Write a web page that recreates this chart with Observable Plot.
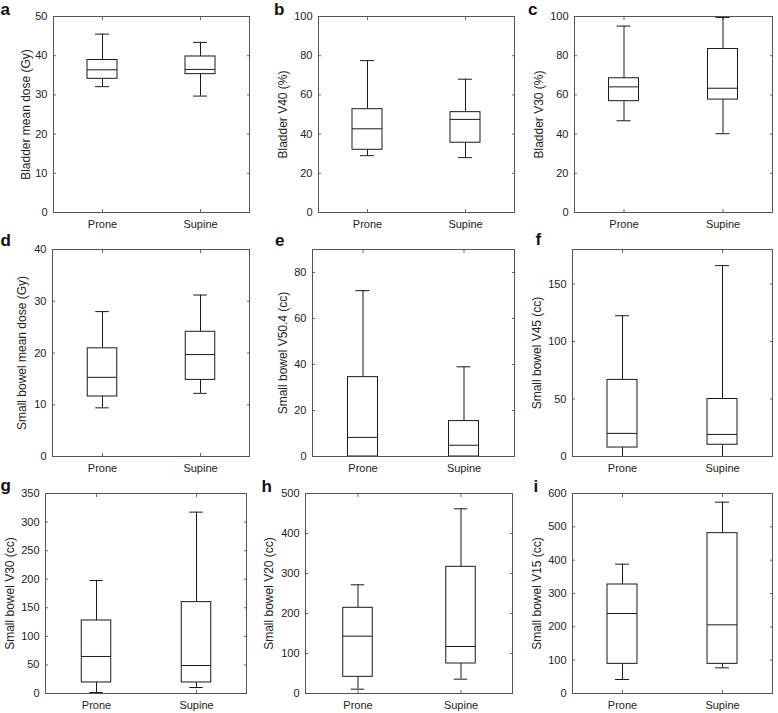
<!DOCTYPE html>
<html>
<head>
<meta charset="utf-8">
<script src="https://cdn.jsdelivr.net/npm/d3@7"></script>
<script src="https://cdn.jsdelivr.net/npm/@observablehq/plot@0.6"></script>
<style>
  html, body { margin: 0; padding: 0; background: #fff; }
  #chart { position: relative; width: 778px; height: 713px; overflow: hidden; background: #fff; }
  #chart > svg { position: absolute; }
</style>
</head>
<body>
<div id="chart"></div>
<script>
// ---- Data ----
const positions = ["Prone", "Supine"];
const panelLetters = ["a", "b", "c", "d", "e", "f", "g", "h", "i"];
const yLabels = [
  "Bladder mean dose (Gy)", "Bladder V40 (%)", "Bladder V30 (%)",
  "Small bowel mean dose (Gy)", "Small bowel V50.4 (cc)", "Small bowel V45 (cc)",
  "Small bowel V30 (cc)", "Small bowel V20 (cc)", "Small bowel V15 (cc)"
];
const yDomainMax = [50, 100, 100, 40, 90, 180, 350, 500, 600];
const yTickValues = [
  [0, 10, 20, 30, 40, 50],
  [0, 20, 40, 60, 80, 100],
  [0, 20, 40, 60, 80, 100],
  [0, 10, 20, 30, 40],
  [0, 20, 40, 60, 80],
  [0, 50, 100, 150],
  [0, 50, 100, 150, 200, 250, 300, 350],
  [0, 100, 200, 300, 400, 500],
  [0, 100, 200, 300, 400, 500, 600]
];
// [Prone, Supine] per panel
const lowerWhisker = [[32.1, 29.7], [29.0, 28.0], [46.8, 40.2], [9.4, 12.2], [0, 0], [0, 0], [1.7, 10.5], [10.8, 35.8], [42, 77]];
const lowerQuartile = [[34.1, 35.3], [32.0, 35.6], [56.8, 57.6], [11.6, 14.8], [0, 0], [7.8, 10.2], [19.3, 19.3], [41.7, 75.0], [89, 89]];
const medianValue = [[36.4, 36.5], [42.7, 47.5], [64.1, 63.4], [15.3, 19.7], [8.3, 4.9], [20.1, 19.2], [64.8, 49.0], [143.3, 117.5], [240, 206]];
const upperQuartile = [[38.9, 39.8], [52.7, 51.2], [68.5, 83.4], [20.9, 24.1], [34.5, 15.4], [66.6, 50.0], [127.8, 159.9], [214.2, 316.7], [327, 481]];
const upperWhisker = [[45.5, 43.4], [77.5, 68.0], [95.1, 99.5], [28.0, 31.2], [72.1, 39.0], [122.4, 166.0], [197.8, 317.4], [271.7, 461.7], [388, 574]];

// ---- Layout (pixels) ----
// frame edges [left, right, top, bottom]
const frames = [
  [53, 249, 16, 212], [318, 514, 16, 212], [574, 772, 16, 212],
  [52, 249, 249, 456], [312, 514, 249, 456], [572, 772, 249, 456],
  [45, 246, 493, 693], [305, 512, 493, 693], [572, 772, 493, 693]
];
const cols = [[0, 255], [255, 515], [515, 778]];
const rowsBox = [[0, 236], [235, 482], [470, 713]];
const yLabelDx = [-27, -35.5, -35, -30, -29.5, -35, -35, -36, -35];
const letterPos = [[0, 14], [273.5, 14], [527.5, 14], [0, 245], [274.5, 245], [535, 244], [0, 490], [261, 491], [533, 491]];

const font = "'Liberation Sans', Arial, Helvetica, sans-serif";
const boxStroke = "#1a1a1a";
const chart = document.getElementById("chart");

panelLetters.forEach((letter, k) => {
  const col = cols[k % 3], row = rowsBox[Math.floor(k / 3)];
  const [fl, fr, ft, fb] = frames[k];
  const width = col[1] - col[0], height = row[1] - row[0];
  const marginLeft = fl - col[0], marginRight = col[1] - fr;
  const marginTop = ft - row[0], marginBottom = row[1] - fb;
  const bandwidth = (fr - fl) / 2;
  const boxInset = (bandwidth - 30) / 2;
  const capInset = (bandwidth - 14) / 2;
  const stats = positions.map((p, j) => ({
    position: p,
    lo: lowerWhisker[k][j], q1: lowerQuartile[k][j], med: medianValue[k][j],
    q3: upperQuartile[k][j], hi: upperWhisker[k][j]
  }));
  const ticks = yTickValues[k];
  const svg = Plot.plot({
    width, height, marginLeft, marginRight, marginTop, marginBottom,
    style: {fontFamily: font, fontSize: "11px", color: "#222", background: "transparent", overflow: "visible"},
    x: {type: "band", domain: positions, padding: 0, axis: null},
    y: {domain: [0, yDomainMax[k]], axis: null},
    marks: [
      Plot.axisY({ticks, tickSize: 0, tickPadding: 6, label: null, fontSize: 11}),
      Plot.axisY({ticks, anchor: "left", tickSize: 3, dx: 3, tickFormat: () => "", label: null, stroke: "#666"}),
      Plot.axisY({ticks, anchor: "right", tickSize: 3, dx: -3, tickFormat: () => "", label: null, stroke: "#666"}),
      Plot.axisX({tickSize: 0, tickPadding: 8, label: null, fontSize: 11}),
      Plot.axisX({anchor: "bottom", tickSize: 3, dy: -3, tickFormat: () => "", label: null, stroke: "#666"}),
      Plot.axisX({anchor: "top", tickSize: 3, dy: 3, tickFormat: () => "", label: null, stroke: "#666"}),
      Plot.ruleX(stats, {x: "position", y1: "lo", y2: "q1", stroke: boxStroke}),
      Plot.ruleX(stats, {x: "position", y1: "q3", y2: "hi", stroke: boxStroke}),
      Plot.tickY(stats, {x: "position", y: "hi", stroke: boxStroke, insetLeft: capInset, insetRight: capInset}),
      Plot.tickY(stats, {x: "position", y: "lo", stroke: boxStroke, insetLeft: capInset, insetRight: capInset}),
      Plot.barY(stats, {x: "position", y1: "q1", y2: "q3", fill: "white", stroke: boxStroke, insetLeft: boxInset, insetRight: boxInset}),
      Plot.tickY(stats, {x: "position", y: "med", stroke: boxStroke, insetLeft: boxInset, insetRight: boxInset}),
      Plot.frame({stroke: "#555"}),
      Plot.text([yLabels[k]], {frameAnchor: "left", rotate: -90, dx: yLabelDx[k], textAnchor: "middle", lineAnchor: "middle", fontSize: 12, fill: "#222"}),
      Plot.text([letter], {frameAnchor: "top-left", dx: letterPos[k][0] - fl, dy: letterPos[k][1] - ft, textAnchor: "start", lineAnchor: "bottom", fontSize: 17, fontWeight: "bold", fill: "#111"})
    ]
  });
  svg.style.left = col[0] + "px";
  svg.style.top = row[0] + "px";
  chart.appendChild(svg);
});
</script>
</body>
</html>
